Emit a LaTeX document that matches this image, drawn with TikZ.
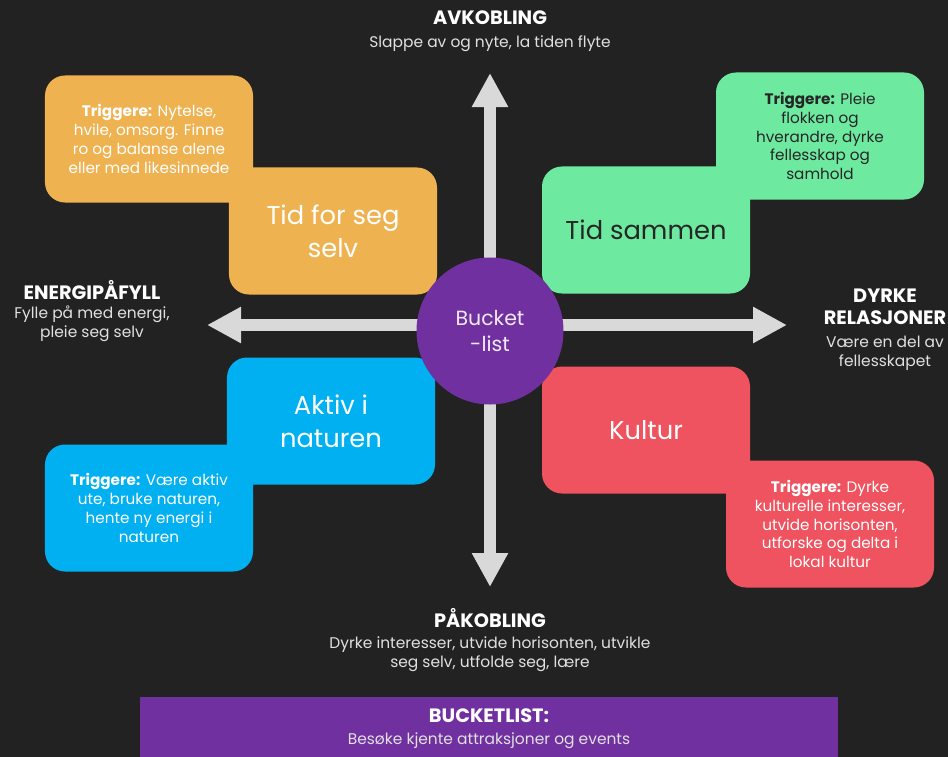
\documentclass[tikz,border=0pt]{standalone}
\usepackage{fontspec}
\setmainfont{Poppins}
\usepackage{xcolor}
\usetikzlibrary{arrows.meta, positioning}

\definecolor{bakgrunn}{HTML}{222222}
\definecolor{oransje}{HTML}{EFB251}
\definecolor{groenn}{HTML}{6EEAA0}
\definecolor{blaa}{HTML}{00B0F0}
\definecolor{roed}{HTML}{EE535F}
\definecolor{lilla}{HTML}{7030A0}
\definecolor{pilgraa}{HTML}{D9D9D9}
\definecolor{mork}{HTML}{262626}

\begin{document}
\begin{tikzpicture}[
    x=0.03cm, y=-0.03cm,
    felt/.style={rounded corners=0.6cm, minimum width=6.24cm, minimum height=3.81cm,
                 align=center, inner sep=0pt},
    trigger/.style={felt, font=\fontsize{13}{16}\selectfont},
    tema/.style={felt, font=\fontsize{22}{28}\selectfont},
    overskrift/.style={font=\fontsize{16.5}{19}\selectfont\bfseries, text=white, align=center},
    undertekst/.style={font=\fontsize{13.2}{16.3}\selectfont, text=white!88!black, align=center},
    pil/.style={draw=pilgraa, line width=0.36cm, -{Triangle[length=1.02cm, width=1.02cm]}}
  ]
    \fill[bakgrunn] (0,0) rectangle (948,757);
    \useasboundingbox (0,0) rectangle (948,757);

    % piler ut fra midten
    \coordinate (kryss) at (490,325);
    \coordinate (toppen) at (490,73);
    \coordinate (bunnen) at (490,587);
    \coordinate (venstre) at (207,325);
    \coordinate (hoyre) at (787,325);
    \draw[pil] (kryss) -- (toppen);
    \draw[pil] (kryss) -- (bunnen);
    \draw[pil] (kryss) -- (venstre);
    \draw[pil] (kryss) -- (hoyre);

    % triggere
    \node[trigger, fill=oransje, text=white] (trigOransje) at (149,139)
      {\textbf{Triggere:} Nytelse,\\hvile, omsorg. Finne\\ro og balanse alene\\eller med likesinnede};
    \node[trigger, fill=groenn, text=mork] (trigGroenn) at (820,136)
      {\textbf{Triggere:} Pleie\\flokken og\\hverandre, dyrke\\fellesskap og\\samhold};
    \node[trigger, fill=blaa, text=white] (trigBlaa) at (149,508)
      {\textbf{Triggere:} Være aktiv\\ute, bruke naturen,\\hente ny energi i\\naturen};
    \node[trigger, fill=roed, text=white] (trigRoed) at (830,524)
      {\textbf{Triggere:} Dyrke\\kulturelle interesser,\\utvide horisonten,\\utforske og delta i\\lokal kultur};

    % temaer
    \node[tema, fill=oransje, text=white] (selv) at (333,231) {Tid for seg\\selv};
    \node[tema, fill=groenn, text=mork] (sammen) at (646,230) {Tid sammen};
    \node[tema, fill=blaa, text=white] (natur) at (331,421) {Aktiv i\\naturen};
    \node[tema, fill=roed, text=white] (kultur) at (646,430) {Kultur};

    \node[circle, fill=lilla, minimum size=4.41cm, align=center, text=white!90!lilla,
          font=\fontsize{17.5}{23}\selectfont] (bucket) at (490,331) {Bucket\\-list};

    % akser
    \node[overskrift] (avkobling) at (490,18) {AVKOBLING};
    \node[undertekst] (avkoblingTxt) at (490,44) {Slappe av og nyte, la tiden flyte};
    \node[overskrift] (energi) at (92,290) {ENERGIPÅFYLL};
    \node[undertekst] (energiTxt) at (92,324) {Fylle på med energi,\\pleie seg selv};
    \node[overskrift] (relasjoner) at (885,307) {DYRKE\\RELASJONER};
    \node[undertekst] (relasjonerTxt) at (885,353) {Være en del av\\fellesskapet};
    \node[overskrift] (pakobling) at (490,618) {PÅKOBLING};
    \node[undertekst] (pakoblingTxt) at (490,654) {Dyrke interesser, utvide horisonten, utvikle\\seg selv, utfolde seg, lære};

    % bucketlist
    \node[fill=lilla, minimum width=20.94cm, minimum height=1.98cm] (stripe) at (489,730) {};
    \node[overskrift] (stripeTittel) at (489,716) {BUCKETLIST:};
    \node[undertekst] (stripeTxt) at (489,741) {Besøke kjente attraksjoner og events};
  \end{tikzpicture}
\end{document}
